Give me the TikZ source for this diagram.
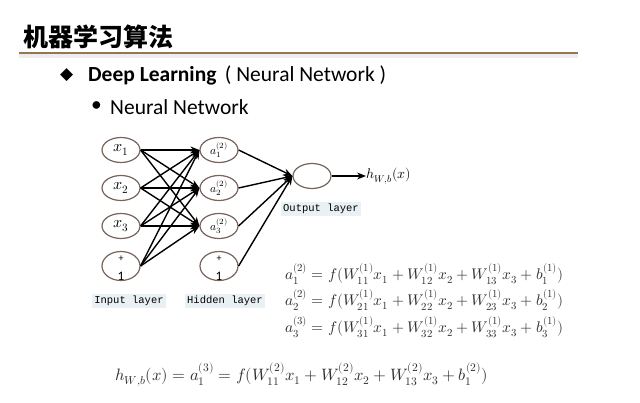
\documentclass[tikz,border=0pt]{standalone}
\usepackage{fontspec}
\usepackage{unicode-math}
\setmathfont{Latin Modern Math}
\setmainfont{Carlito}
\newfontfamily\cjk{Noto Sans CJK SC}
\newfontfamily\dejavu{DejaVu Sans}
\newfontfamily\mono{Liberation Mono}
\usetikzlibrary{shapes.geometric,arrows.meta}
\definecolor{titleline}{RGB}{150,118,80}
\definecolor{nodeline}{RGB}{120,100,92}
\definecolor{labelbg}{RGB}{233,241,245}
\definecolor{eqcol}{RGB}{45,45,45}
\tikzset{
  neuron/.style={ellipse,draw=nodeline,line width=1.2pt,minimum width=38pt,minimum height=25pt,inner sep=0pt},
  inneuron/.style={neuron,font=\fontsize{16}{18}\selectfont},
  hidneuron/.style={neuron,font=\fontsize{11.5}{13}\selectfont},
  biasneuron/.style={neuron,minimum height=29pt},
  conn/.style={line width=1.4pt,-{Stealth[length=9pt,width=7pt]}},
  layerlabel/.style={fill=labelbg,inner sep=2.5pt,font=\mono\fontsize{10.5}{12}\selectfont},
  eqn/.style={anchor=west,inner sep=0pt,text=eqcol,font=\fontsize{15.4}{18}\selectfont},
}
\begin{document}
\begin{tikzpicture}[x=1pt,y=-1pt]
\useasboundingbox (0,0) rectangle (640,403);
\fill[white] (0,0) rectangle (640,403);
% title
\node[anchor=west,inner sep=0pt,font=\cjk\bfseries\fontsize{25}{27}\selectfont] (title) at (23,37) {机器学习算法};
\coordinate (ls) at (19,53);
\coordinate (le) at (578,53);
\fill[black!7] ([yshift=-1pt]ls) rectangle ([yshift=-5pt]le);
\draw[titleline,line width=2pt] (ls) -- (le);
% bullets
\node[anchor=west,inner sep=0pt,font=\dejavu\fontsize{17}{19}\selectfont] (dia) at (60,75) {◆};
\node[anchor=west,inner sep=0pt,font=\fontsize{21.5}{24}\selectfont] (dl) at (88,75) {\textbf{Deep Learning}\ \,(\ Neural Network\ )};
\node[anchor=west,inner sep=0pt,font=\fontsize{21.5}{24}\selectfont] (dot) at (91,107) {•};
\node[anchor=west,inner sep=0pt,font=\fontsize{21.5}{24}\selectfont] (nn) at (110,107) {Neural Network};
% network nodes
\node[inneuron] (x1) at (121,150) {$x_1$};
\node[inneuron] (x2) at (121,188) {$x_2$};
\node[inneuron] (x3) at (121,226) {$x_3$};
\node[biasneuron] (xb) at (121,266) {};
\node[font=\fontsize{10}{11}\selectfont,inner sep=0pt] (xbp) at ([yshift=7pt]xb.center) {+};
\node[font=\fontsize{13}{14}\selectfont,inner sep=0pt] (xbo) at ([yshift=-10pt]xb.center) {1};
\node[hidneuron] (h1) at (219,150) {$a_1^{(2)}$};
\node[hidneuron] (h2) at (219,188) {$a_2^{(2)}$};
\node[hidneuron] (h3) at (219,226) {$a_3^{(2)}$};
\node[biasneuron] (hb) at (219,266) {};
\node[font=\fontsize{10}{11}\selectfont,inner sep=0pt] (hbp) at ([yshift=7pt]hb.center) {+};
\node[font=\fontsize{13}{14}\selectfont,inner sep=0pt] (hbo) at ([yshift=-10pt]hb.center) {1};
\node[neuron] (o) at (312,176) {};
\node[anchor=west,inner sep=0pt,font=\fontsize{14}{16}\selectfont] (hout) at (366,176) {$h_{W,b}(x)$};
% connectors
\foreach \s in {x1,x2,x3,xb}{
  \foreach \t in {h1,h2,h3}{
    \draw[conn] (\s.east) -- (\t.west);
  }
}
\foreach \s in {h1,h2,h3,hb}{
  \draw[conn] (\s.east) -- (o.west);
}
\draw[conn] (o.east) -- (hout.west);
% layer labels
\node[layerlabel] (il) at (129,301) {Input layer};
\node[layerlabel] (hl) at (225,301) {Hidden layer};
\node[layerlabel] (ol) at (321,209) {Output layer};
% equations
\node[eqn] (e1) at (285,274) {$a_1^{(2)}=f(W_{11}^{(1)}x_1+W_{12}^{(1)}x_2+W_{13}^{(1)}x_3+b_1^{(1)})$};
\node[eqn] (e2) at (285,300) {$a_2^{(2)}=f(W_{21}^{(1)}x_1+W_{22}^{(1)}x_2+W_{23}^{(1)}x_3+b_2^{(1)})$};
\node[eqn] (e3) at (285,327) {$a_3^{(3)}=f(W_{31}^{(1)}x_1+W_{32}^{(1)}x_2+W_{33}^{(1)}x_3+b_3^{(1)})$};
\node[eqn,font=\fontsize{16.5}{19}\selectfont] (e4) at (115,375) {$h_{W,b}(x)=a_1^{(3)}=f(W_{11}^{(2)}x_1+W_{12}^{(2)}x_2+W_{13}^{(2)}x_3+b_1^{(2)})$};
\end{tikzpicture}
\end{document}
